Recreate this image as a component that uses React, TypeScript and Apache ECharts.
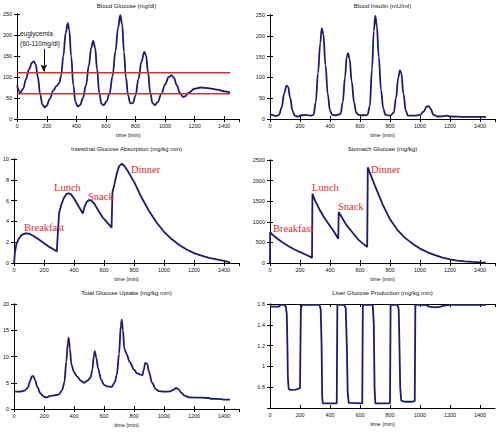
import React, { useEffect, useRef } from "react";
import * as echarts from "echarts";

// ---- Data (time in min, value) ----
const glucose: [number, number][] = [
  [0, 80], [10, 68], [20, 62], [40, 72], [60, 95], [80, 118], [100, 134], [112, 137], [125, 130], [140, 100],
  [155, 60], [170, 35], [185, 28], [200, 32], [220, 48], [245, 68], [265, 78], [285, 86], [298, 105], [312, 150],
  [328, 205], [342, 228], [352, 213], [365, 150], [380, 80], [393, 42], [408, 30], [425, 33], [445, 50], [465, 80],
  [485, 128], [500, 168], [514, 186], [527, 170], [540, 120], [555, 62], [570, 36], [585, 33], [605, 42], [625, 62],
  [645, 102], [665, 162], [682, 217], [697, 247], [710, 225], [722, 160], [735, 100], [750, 56], [765, 37], [782, 38],
  [800, 55], [820, 95], [840, 136], [860, 160], [872, 150], [885, 110], [900, 62], [915, 38], [930, 33], [950, 40],
  [975, 60], [1000, 82], [1025, 100], [1045, 104], [1060, 98], [1080, 80], [1100, 62], [1120, 53], [1135, 54], [1160, 63],
  [1200, 72], [1240, 75], [1300, 73], [1350, 70], [1400, 66], [1440, 63],
];
const euglycemiaBounds = [110, 60];
const euglycemiaSpan = [0, 1440];

const insulin: [number, number][] = [
  [0, 12], [20, 9], [40, 7], [60, 10], [78, 28], [95, 62], [110, 80], [120, 78], [135, 50], [150, 20],
  [165, 8], [185, 6], [210, 9], [240, 10], [270, 8], [290, 10], [305, 40], [320, 110], [335, 182], [345, 218],
  [355, 205], [370, 130], [385, 60], [400, 20], [415, 10], [440, 9], [470, 12], [485, 40], [500, 100], [512, 150],
  [520, 158], [530, 145], [545, 90], [560, 40], [575, 15], [590, 10], [620, 9], [650, 10], [665, 30], [680, 120],
  [692, 212], [702, 248], [712, 225], [725, 150], [740, 70], [755, 25], [770, 10], [800, 8], [825, 15], [840, 50],
  [855, 100], [866, 117], [875, 110], [890, 60], [905, 20], [920, 8], [960, 8], [1000, 10], [1025, 18], [1045, 30],
  [1058, 31], [1070, 25], [1090, 10], [1120, 6], [1160, 7], [1180, 8], [1200, 6], [1300, 5], [1440, 5],
];

const intestinal: [number, number][] = [
  [0, 0], [5, 1.0], [15, 1.8], [30, 2.3], [50, 2.7], [75, 2.85], [100, 2.82], [130, 2.6], [160, 2.3], [200, 1.9],
  [240, 1.5], [270, 1.25], [285, 1.1], [290, 2.5], [300, 4.8], [315, 5.6], [330, 6.2], [350, 6.65], [365, 6.7], [380, 6.6],
  [400, 6.2], [420, 5.7], [445, 5.1], [458, 4.75], [470, 5.4], [485, 5.9], [500, 6.05], [515, 6.0], [535, 5.7], [560, 5.1],
  [590, 4.4], [620, 3.9], [645, 3.5], [650, 3.4], [656, 6.8], [668, 7.5], [685, 8.6], [700, 9.3], [718, 9.55], [735, 9.35],
  [760, 8.8], [800, 7.8], [850, 6.3], [900, 5.0], [950, 3.9], [1000, 3.0], [1050, 2.3], [1100, 1.75], [1150, 1.3], [1200, 0.95],
  [1250, 0.7], [1300, 0.5], [1350, 0.35], [1400, 0.2], [1440, 0.05],
];

const stomach: [number, number][] = [
  [0, 0], [1, 750], [25, 660], [50, 590], [75, 520], [100, 460], [130, 395], [160, 335], [200, 265], [240, 200],
  [270, 150], [280, 120], [283, 1680], [300, 1520], [330, 1300], [360, 1110], [400, 900], [430, 740], [455, 590], [458, 1240],
  [480, 1100], [510, 920], [550, 740], [590, 560], [620, 470], [648, 390], [652, 2320], [670, 2150], [700, 1870], [750, 1430],
  [800, 1060], [850, 800], [900, 610], [950, 470], [1000, 350], [1050, 260], [1100, 190], [1150, 130], [1200, 90], [1250, 60],
  [1300, 40], [1350, 25], [1400, 15], [1440, 10],
];

const uptake: [number, number][] = [
  [0, 3.3], [40, 3.3], [70, 3.5], [90, 4.0], [105, 5.2], [118, 6.2], [128, 6.3], [140, 5.5], [155, 4.2], [175, 3.0],
  [195, 2.4], [215, 2.2], [240, 2.5], [270, 2.6], [300, 2.8], [320, 3.6], [335, 5.0], [348, 9.0], [358, 12.5], [364, 13.6],
  [372, 11.5], [382, 8.5], [400, 7.0], [420, 6.2], [445, 5.4], [465, 5.0], [490, 5.4], [510, 6.0], [522, 7.5], [532, 10.2],
  [538, 11.0], [548, 9.8], [560, 7.8], [580, 5.6], [600, 4.6], [620, 4.3], [650, 4.2], [670, 5.0], [685, 6.5], [700, 10.5],
  [712, 16.0], [718, 17.0], [726, 15.0], [735, 11.5], [750, 10.5], [770, 9.0], [800, 7.5], [820, 6.8], [840, 6.6], [855, 6.4],
  [865, 7.5], [875, 8.8], [888, 8.6], [900, 7.0], [920, 5.0], [945, 3.8], [965, 3.4], [1000, 3.3], [1040, 3.35], [1065, 3.7],
  [1080, 4.0], [1095, 3.8], [1115, 3.1], [1140, 2.5], [1170, 2.2], [1250, 2.15], [1300, 2.1], [1310, 1.95], [1380, 1.9], [1400, 1.8],
  [1440, 1.8],
];

const liver: [number, number][] = [
  [0, 1.575], [60, 1.575], [70, 1.592], [95, 1.592], [105, 1.575], [112, 1.5], [116, 1.2], [119, 0.9], [124, 0.79], [130, 0.775],
  [170, 0.777], [200, 0.79], [203, 1.2], [206, 1.55], [212, 1.592], [330, 1.592], [338, 1.55], [344, 1.2], [348, 0.7], [352, 0.645],
  [445, 0.645], [449, 1.592], [495, 1.592], [505, 1.56], [512, 1.2], [518, 0.75], [525, 0.65], [615, 0.645], [619, 1.592], [685, 1.592],
  [692, 1.4], [697, 0.8], [702, 0.645], [800, 0.645], [804, 1.592], [850, 1.592], [858, 1.55], [863, 1.2], [868, 0.8], [875, 0.67],
  [900, 0.66], [940, 0.66], [965, 0.667], [969, 1.592], [1000, 1.592], [1040, 1.59], [1060, 1.575], [1100, 1.568], [1130, 1.572], [1160, 1.585],
  [1200, 1.592], [1440, 1.592],
];

const titles = [
  "Blood Glucose (mg/dl)",
  "Blood Insulin (mU/ml)",
  "Intestinal Glucose Absorption (mg/kg min)",
  "Stomach Glucose (mg/kg)",
  "Total Glucose Uptake (mg/kg min)",
  "Liver Glucose Production (mg/kg min)",
];
const yRanges: [number, number, number][] = [
  [0, 250, 50],
  [0, 250, 50],
  [0, 10, 2],
  [0, 2500, 500],
  [0, 20, 5],
  [0.6, 1.6, 0.2],
];
const xRange: [number, number, number] = [0, 1500, 200];
const xName = "time (min)";
const mealLabels = ["Breakfast", "Lunch", "Snack", "Dinner"];

const grids = [
  { left: 14, top: 14, width: 225, height: 105 },
  { left: 270, top: 15, width: 225, height: 104 },
  { left: 14, top: 159, width: 225, height: 104 },
  { left: 270, top: 160, width: 225, height: 103 },
  { left: 14, top: 304, width: 225, height: 105 },
  { left: 270, top: 304, width: 225, height: 104 },
];
const titleY = [6, 6, 149, 149, 293, 293];

const LINE = "#1c1c6b";
const RED = "#dd2a30";
const FONT = "Liberation Sans, Arial, sans-serif";

const fmt = (v: number) => String(Math.round(v * 1000) / 1000);

export default function App() {
  const ref = useRef<HTMLDivElement>(null);
  useEffect(() => {
    if (!ref.current) return;
    const chart = echarts.init(ref.current, undefined, { renderer: "svg" });
    const xAxis: any[] = [];
    const yAxis: any[] = [];
    const axisLine = { show: true, lineStyle: { color: "#000", width: 1 } };
    const tick = { show: true, inside: true, length: 3, lineStyle: { color: "#000", width: 1 } };
    const label = { fontSize: 5.5, color: "#111", fontFamily: FONT, formatter: fmt };
    grids.forEach((_, i) => {
      const [ymin, ymax, yint] = yRanges[i];
      xAxis.push({
        type: "value", gridIndex: i, position: "bottom", min: xRange[0], max: xRange[1], interval: xRange[2],
        axisLine, axisTick: tick, splitLine: { show: false },
        axisLabel: { ...label, margin: 4, showMaxLabel: false },
        name: xName, nameLocation: "middle", nameGap: 13,
        nameTextStyle: { fontSize: 5.5, color: "#111", fontFamily: FONT },
      });
      xAxis.push({
        type: "value", gridIndex: i, position: "top", min: xRange[0], max: xRange[1], interval: xRange[2],
        axisLine, axisTick: tick, splitLine: { show: false }, axisLabel: { show: false },
      });
      yAxis.push({
        type: "value", gridIndex: i, position: "left", min: ymin, max: ymax, interval: yint,
        axisLine, axisTick: tick, splitLine: { show: false },
        axisLabel: { ...label, margin: 5, showMinLabel: i !== 5 },
      });
      yAxis.push({
        type: "value", gridIndex: i, position: "right", min: ymin, max: ymax, interval: yint,
        axisLine, axisTick: tick, splitLine: { show: false }, axisLabel: { show: false },
      });
    });
    const datasets = [glucose, insulin, intestinal, stomach, uptake, liver];
    const smoothFlags = [0.4, 0.4, false, false, 0.3, false];
    const series: any[] = datasets.map((d, i) => ({
      type: "line", xAxisIndex: i * 2, yAxisIndex: i * 2, data: d, showSymbol: false,
      smooth: smoothFlags[i], smoothMonotone: "x",
      lineStyle: { color: LINE, width: 1.8 }, z: 3,
    }));
    euglycemiaBounds.forEach((b) => {
      series.push({
        type: "line", xAxisIndex: 0, yAxisIndex: 0, showSymbol: false,
        data: [[euglycemiaSpan[0], b], [euglycemiaSpan[1], b]],
        lineStyle: { color: RED, width: 1.6 }, z: 4,
      });
    });
    series[0].markLine = {
      silent: true, symbol: ["none", "arrow"], symbolSize: [5, 7],
      label: { show: false },
      lineStyle: { color: "#000", width: 1, type: "solid" },
      data: [[{ coord: [180, 167] }, { coord: [180, 113] }]],
    };

    const graphic: any[] = [];
    grids.forEach((g, i) => {
      graphic.push({
        type: "text", x: g.left + g.width / 2, y: titleY[i],
        style: { text: titles[i], fontSize: 6, fontFamily: FONT, fill: "#111", textAlign: "center", textVerticalAlign: "middle" },
      });
    });
    graphic.push({
      type: "text", x: 20, y: 33,
      style: { text: "euglycemia", fontSize: 6.5, fontFamily: FONT, fill: "#111", textVerticalAlign: "middle" },
    });
    graphic.push({
      type: "text", x: 20, y: 43,
      style: { text: "(60-110mg/dl)", fontSize: 6.5, fontFamily: FONT, fill: "#111", textVerticalAlign: "middle" },
    });
    const mealPos3 = [[24, 227], [54, 187], [88, 196], [131, 169]];
    const mealPos4 = [[273, 228], [312, 187], [338, 206], [371, 169]];
    [mealPos3, mealPos4].forEach((pos) => {
      pos.forEach((p, k) => {
        graphic.push({
          type: "text", x: p[0], y: p[1], z: 10,
          style: { text: mealLabels[k], fontSize: 10.5, fontFamily: "Liberation Serif, Times New Roman, serif", fill: RED, textVerticalAlign: "middle" },
        });
      });
    });

    chart.setOption({
      animation: false,
      backgroundColor: "#fff",
      grid: grids.map((g) => ({ ...g, containLabel: false })),
      xAxis, yAxis, series, graphic,
    });
    return () => chart.dispose();
  }, []);
  return <div ref={ref} style={{ position: "fixed", left: 0, top: 0, width: 499, height: 434 }} />;
}
